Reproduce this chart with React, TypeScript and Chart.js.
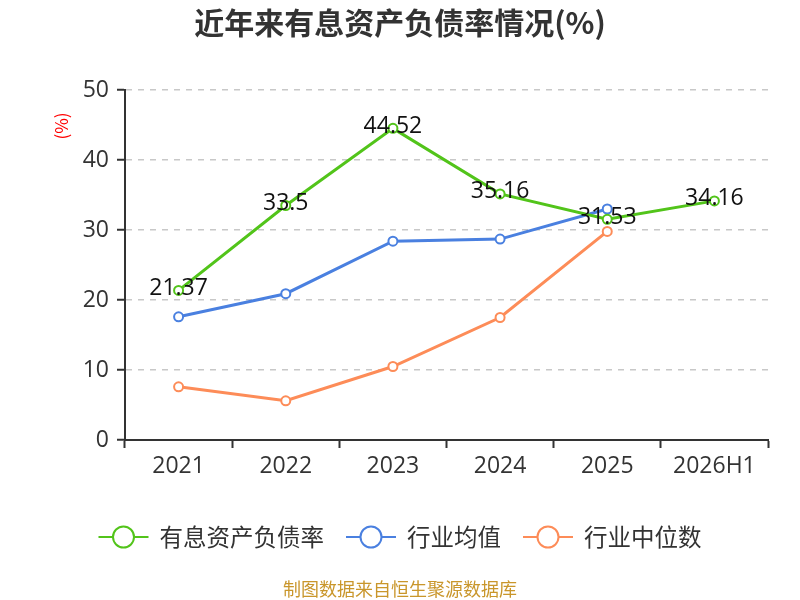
import React, { useEffect, useRef } from "react";
import { Chart, registerables } from "chart.js";

Chart.register(...registerables);

const categories = ["2021", "2022", "2023", "2024", "2025", "2026H1"];
const debtRatio = [21.37, 33.5, 44.52, 35.16, 31.53, 34.16];
const industryAvg = [17.6, 20.9, 28.4, 28.7, 33.0, null];
const industryMedian = [7.6, 5.6, 10.5, 17.5, 29.8, null];
const yTicks = [0, 10, 20, 30, 40, 50];
const seriesNames = ["有息资产负债率", "行业均值", "行业中位数"];
const seriesColors = ["#52c41a", "#4a80e0", "#fd8c58"];

const FONT = '"Noto Sans CJK SC", "Noto Sans", sans-serif';
const NUMFONT = '"Open Sans", "Noto Sans", sans-serif';

const decorPlugin = {
  id: "decor",
  afterDatasetsDraw(chart: any) {
    const ctx = chart.ctx;
    const meta = chart.getDatasetMeta(0);
    ctx.save();
    ctx.font = `23px ${NUMFONT}`;
    ctx.fillStyle = "#111";
    ctx.textAlign = "center";
    ctx.textBaseline = "middle";
    meta.data.forEach((pt: any, i: number) => {
      ctx.fillText(String(debtRatio[i]), pt.x, pt.y - 2);
    });
    ctx.restore();
  },
  afterDraw(chart: any) {
    const ctx = chart.ctx;
    ctx.save();
    ctx.font = `bold 30px ${FONT}`;
    ctx.fillStyle = "#333";
    ctx.textAlign = "center";
    ctx.textBaseline = "middle";
    ctx.fillText("近年来有息资产负债率情况(%)", 400, 23);

    ctx.save();
    ctx.translate(62, 126);
    ctx.rotate(-Math.PI / 2);
    ctx.font = `17px ${FONT}`;
    ctx.fillStyle = "#ff0000";
    ctx.fillText("(%)", 0, 0);
    ctx.restore();

    ctx.font = `23.5px ${FONT}`;
    const lineW = 50;
    const gapText = 11;
    const gapItem = 22;
    const widths = seriesNames.map((n) => ctx.measureText(n).width);
    const total =
      widths.reduce((a, b) => a + b, 0) + seriesNames.length * (lineW + gapText) + gapItem * (seriesNames.length - 1);
    let x = 400 - total / 2;
    const ly = 537;
    seriesNames.forEach((name, i) => {
      ctx.strokeStyle = seriesColors[i];
      ctx.lineWidth = 2;
      ctx.beginPath();
      ctx.moveTo(x, ly);
      ctx.lineTo(x + lineW, ly);
      ctx.stroke();
      ctx.beginPath();
      ctx.arc(x + lineW / 2, ly, 10.5, 0, Math.PI * 2);
      ctx.fillStyle = "#fff";
      ctx.fill();
      ctx.stroke();
      ctx.fillStyle = "#333";
      ctx.textAlign = "left";
      ctx.textBaseline = "middle";
      ctx.fillText(name, x + lineW + gapText, ly);
      x += lineW + gapText + widths[i] + gapItem;
    });

    ctx.font = `18px ${FONT}`;
    ctx.fillStyle = "#c9962b";
    ctx.textAlign = "center";
    ctx.fillText("制图数据来自恒生聚源数据库", 400, 589);
    ctx.restore();
  },
};

function makeDataset(label: string, data: (number | null)[], color: string) {
  return {
    label,
    data,
    borderColor: color,
    backgroundColor: "#fff",
    borderWidth: 3,
    pointRadius: 4.5,
    pointBorderWidth: 2,
    pointBackgroundColor: "#fff",
    pointBorderColor: color,
    tension: 0,
    spanGaps: false,
  };
}

export default function App() {
  const ref = useRef<HTMLCanvasElement>(null);
  useEffect(() => {
    if (!ref.current) return;
    const chart = new Chart(ref.current, {
      type: "line",
      data: {
        labels: categories,
        datasets: [
          makeDataset(seriesNames[0], debtRatio, seriesColors[0]),
          makeDataset(seriesNames[1], industryAvg, seriesColors[1]),
          makeDataset(seriesNames[2], industryMedian, seriesColors[2]),
        ],
      },
      options: {
        animation: false,
        responsive: false,
        devicePixelRatio: 1,
        layout: { padding: { left: 0, top: 90, right: 32, bottom: 120 } },
        plugins: {
          legend: { display: false },
          title: { display: false },
          tooltip: { enabled: false },
        },
        scales: {
          x: {
            offset: true,
            grid: {
              offset: true,
              drawOnChartArea: false,
              drawTicks: true,
              tickLength: 8,
              tickColor: "#333",
              tickWidth: 2,
            },
            border: { color: "#333", width: 2 },
            ticks: {
              color: "#333",
              font: { family: NUMFONT, size: 23 },
              padding: 5,
              maxRotation: 0,
            },
            afterFit: (s: any) => {
              s.height = 40;
            },
          },
          y: {
            min: 0,
            max: 50,
            afterBuildTicks: (s: any) => {
              s.ticks = yTicks.map((v) => ({ value: v }));
            },
            grid: {
              color: "#c8c8c8",
              lineWidth: 1.5,
              drawTicks: true,
              tickLength: 8,
              tickColor: "#333",
              tickWidth: 2,
              tickBorderDash: [],
            },
            border: { color: "#333", width: 2, dash: [6, 6] },
            ticks: {
              color: "#333",
              font: { family: NUMFONT, size: 23 },
              padding: 8,
            },
            afterFit: (s: any) => {
              s.width = 125;
            },
          },
        },
      },
      plugins: [decorPlugin],
    });
    return () => chart.destroy();
  }, []);
  return (
    <div style={{ position: "absolute", left: 0, top: 0, width: 800, height: 600, background: "#fff" }}>
      <canvas ref={ref} width={800} height={600} style={{ width: 800, height: 600 }} />
    </div>
  );
}
